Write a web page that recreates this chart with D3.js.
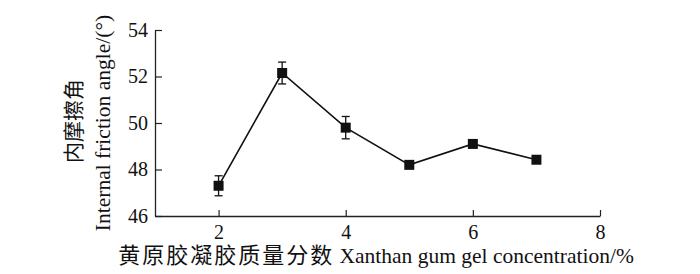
<!DOCTYPE html>
<html><head><meta charset="utf-8">
<script src="https://cdn.jsdelivr.net/npm/d3@7"></script>
<style>
html,body{margin:0;padding:0;background:#fff;}
svg{display:block;}
text{font-family:"Liberation Serif","Times New Roman",serif;fill:#111;}
.cjk{font-family:"Noto Sans CJK SC",sans-serif;}
</style></head>
<body>
<svg id="c" width="700" height="274"></svg>
<script>
const concentration = [2, 3, 4, 5, 6, 7];
const frictionAngle = [47.3, 52.15, 49.8, 48.2, 49.1, 48.42];
const errorBar = [0.43, 0.47, 0.48, 0.15, 0.07, 0.05];
const xTicks = [2, 4, 6, 8];
const yTicks = [46, 48, 50, 52, 54];
const xTitleCn = "黄原胶凝胶质量分数";
const xTitleEn = " Xanthan gum gel concentration/%";
const yTitleCn = "内摩擦角";
const yTitleEn = "Internal friction angle/(°)";

const svg = d3.select("#c");
const x = d3.scaleLinear().domain([1, 8]).range([155, 600]);
const y = d3.scaleLinear().domain([46, 54]).range([216, 30]);

const xAxis = svg.append("g").attr("transform", "translate(0,216)")
  .call(d3.axisBottom(x).tickValues(xTicks).tickSize(-6).tickPadding(9).tickSizeOuter(0).tickFormat(d3.format("d")));
const yAxis = svg.append("g").attr("transform", "translate(155,0)")
  .call(d3.axisLeft(y).tickValues(yTicks).tickSize(-7).tickPadding(7).tickSizeOuter(0).tickFormat(d3.format("d")));
[xAxis, yAxis].forEach(g => {
  g.select(".domain").attr("stroke", "#222").attr("stroke-width", 1.3);
  g.selectAll(".tick line").attr("stroke", "#222").attr("stroke-width", 1.2);
  g.selectAll(".tick text").style("font-family", '"Liberation Serif",serif').style("font-size", "20px").attr("fill", "#111");
});
xAxis.selectAll(".tick text").attr("dy", "0.7em");

const pts = concentration.map((c, i) => ({c, v: frictionAngle[i], e: errorBar[i]}));

svg.append("path").datum(pts)
  .attr("fill", "none").attr("stroke", "#111").attr("stroke-width", 1.6)
  .attr("d", d3.line().x(d => x(d.c)).y(d => y(d.v)));

const eb = svg.append("g").attr("stroke", "#111").attr("stroke-width", 1.3);
pts.forEach(d => {
  eb.append("line").attr("x1", x(d.c)).attr("x2", x(d.c)).attr("y1", y(d.v - d.e)).attr("y2", y(d.v + d.e));
  [d.v - d.e, d.v + d.e].forEach(v => eb.append("line").attr("x1", x(d.c) - 4).attr("x2", x(d.c) + 4).attr("y1", y(v)).attr("y2", y(v)));
});

svg.append("g").selectAll("rect").data(pts).join("rect")
  .attr("x", d => x(d.c) - 5).attr("y", d => y(d.v) - 5)
  .attr("width", 10).attr("height", 10).attr("fill", "#111");

const xt = svg.append("text").attr("x", 376).attr("y", 263).attr("text-anchor", "middle").style("font-size", "21.5px");
xt.append("tspan").attr("class", "cjk").style("font-size", "22px").style("letter-spacing", "2px").text(xTitleCn);
xt.append("tspan").text(xTitleEn);

svg.append("text").attr("class", "cjk").attr("transform", "translate(81,121) rotate(-90)")
  .attr("text-anchor", "middle").style("font-size", "21px").text(yTitleCn);
svg.append("text").attr("transform", "translate(110,123) rotate(-90)")
  .attr("text-anchor", "middle").style("font-size", "21.5px").text(yTitleEn);
</script>
</body></html>
